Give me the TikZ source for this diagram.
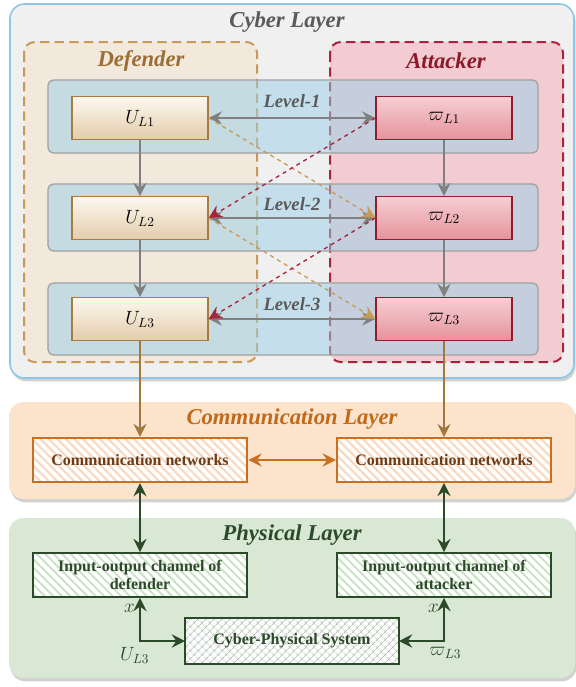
\documentclass[tikz,border=0pt]{standalone}
\usepackage{fontspec}
\setmainfont{Liberation Serif}
\usetikzlibrary{arrows.meta,calc,positioning,shadows,patterns.meta}
\definecolor{cybBg}{RGB}{240,240,240}
\definecolor{cybLn}{RGB}{142,198,232}
\definecolor{cybTx}{RGB}{90,90,90}
\definecolor{defLn}{RGB}{200,154,88}
\definecolor{defBg}{RGB}{242,232,220}
\definecolor{defTx}{RGB}{155,110,53}
\definecolor{attLn}{RGB}{168,36,56}
\definecolor{attBg}{RGB}{242,204,210}
\definecolor{attTx}{RGB}{140,24,40}
\definecolor{lvlBg}{RGB}{154,208,232}
\definecolor{lvlLn}{RGB}{160,160,160}
\definecolor{arrG}{RGB}{128,128,128}
\definecolor{uLn}{RGB}{168,123,64}
\definecolor{uTop}{RGB}{252,248,240}
\definecolor{uBot}{RGB}{227,205,170}
\definecolor{sLn}{RGB}{142,30,46}
\definecolor{sTop}{RGB}{246,206,211}
\definecolor{sBot}{RGB}{229,147,156}
\definecolor{linkT}{RGB}{160,120,64}
\definecolor{comBg}{RGB}{252,227,204}
\definecolor{comLn}{RGB}{200,112,32}
\definecolor{comTx}{RGB}{192,106,26}
\definecolor{comNt}{RGB}{110,60,20}
\definecolor{comHt}{RGB}{250,216,192}
\definecolor{phyBg}{RGB}{216,232,212}
\definecolor{phyLn}{RGB}{44,74,42}
\definecolor{phyHt}{RGB}{200,226,196}

\tikzset{
  layerbox/.style={rounded corners=11pt,drop shadow={shadow xshift=1.2pt,shadow yshift=-2.5pt,opacity=0.35}},
  sidebox/.style={rounded corners=8pt,line width=1.5pt,dash pattern=on 7pt off 4pt},
  levelbox/.style={rounded corners=4pt,draw=lvlLn,line width=0.9pt,fill=lvlBg,fill opacity=0.5},
  title/.style={font=\fontsize{17}{20}\selectfont\bfseries\itshape},
  lvltext/.style={font=\fontsize{14}{16}\selectfont\bfseries\itshape,text=cybTx},
  ubox/.style={draw=uLn,line width=1pt,top color=uTop,bottom color=uBot,minimum width=102pt,minimum height=32pt,font=\fontsize{14}{16}\selectfont},
  sbox/.style={draw=sLn,line width=1pt,top color=sTop,bottom color=sBot,minimum width=102pt,minimum height=32pt,font=\fontsize{14}{16}\selectfont},
  netbox/.style={draw=comLn,line width=1.3pt,preaction={fill=white},pattern={Lines[angle=-45,distance=4.5pt,line width=1.6pt]},pattern color=comHt,minimum width=161pt,minimum height=33pt,text=comNt,font=\fontsize{12}{14}\selectfont\bfseries},
  chanbox/.style={draw=phyLn,line width=1.3pt,preaction={fill=white},pattern={Lines[angle=-45,distance=4.5pt,line width=1.4pt]},pattern color=phyHt,minimum width=161pt,minimum height=33pt,text=phyLn,align=center,font=\fontsize{12}{14}\selectfont\bfseries},
  cpsbox/.style={draw=phyLn,line width=1.3pt,preaction={fill=white},pattern={Hatch[angle=45,distance=4pt,line width=0.5pt]},pattern color=phyLn!35,minimum width=160pt,minimum height=34pt,text=phyLn,font=\fontsize{12}{14}\selectfont\bfseries},
  garrow/.style={draw=arrG,line width=1.1pt},
  lbl/.style={font=\fontsize{14}{16}\selectfont}
}

\begin{document}
\begin{tikzpicture}[x=0.75pt,y=-0.75pt,>={Stealth[length=10pt,width=10pt,inset=3.5pt]}]
\fill[white] (0,0) rectangle (576,687);
\useasboundingbox (0,0) rectangle (576,687);
% ---- cyber layer with defender / attacker columns
\draw[layerbox,draw=cybLn,line width=1.2pt,fill=cybBg] (10,4) rectangle (574,378);
\node[title,text=cybTx] (cybT) at (287,22) {Cyber Layer};
\draw[sidebox,draw=defLn,fill=defBg] (24,42) rectangle (257,362);
\node[title,text=defTx] (defT) at (141,61) {Defender};
\draw[sidebox,draw=attLn,fill=attBg] (330,42) rectangle (563,362);
\node[title,text=attTx] (attT) at (446,61) {Attacker};
\foreach \ya/\yb in {80/153,184/251,283/355}
  \draw[levelbox] (48,\ya) rectangle (538,\yb);
\node[lvltext] (lv1) at (292,101) {Level-1};
\node[lvltext] (lv2) at (292,204) {Level-2};
\node[lvltext] (lv3) at (292,304) {Level-3};
\node[ubox] (u1) at (140,118) {$U_{L1}$};
\node[ubox] (u2) at (140,218) {$U_{L2}$};
\node[ubox] (u3) at (140,319) {$U_{L3}$};
\node[sbox] (s1) at (444,118) {$\varpi_{L1}$};
\node[sbox] (s2) at (444,218) {$\varpi_{L2}$};
\node[sbox] (s3) at (444,319) {$\varpi_{L3}$};
\foreach \i in {1,2,3}
  \draw[garrow,<->] (u\i.east) -- (s\i.west);
\draw[garrow,->] (u1) -- (u2);
\draw[garrow,->] (u2) -- (u3);
\draw[garrow,->] (s1) -- (s2);
\draw[garrow,->] (s2) -- (s3);
\foreach \i/\j in {1/2,2/3}{
  \draw[defLn,line width=1pt,dashed,->] (u\i.east) -- (s\j.west);
  \draw[attLn,line width=1pt,dashed,->] (s\i.west) -- (u\j.east);
}
% ---- communication layer
\fill[layerbox,comBg] (9,402) rectangle (575,499);
\node[title,text=comTx] (comT) at (292,419) {Communication Layer};
\node[netbox] (c1) at (140,460) {Communication networks};
\node[netbox] (c2) at (444,460) {Communication networks};
\draw[comLn,line width=1.1pt,<->] (c1) -- (c2);
\draw[linkT,line width=1pt,->] (u3) -- (c1);
\draw[linkT,line width=1pt,->] (s3) -- (c2);
% ---- physical layer
\fill[layerbox,phyBg] (9,518) rectangle (575,678);
\node[title,text=phyLn] (phyT) at (292,535) {Physical Layer};
\node[chanbox] (io1) at (140,575) {Input-output channel of\\defender};
\node[chanbox] (io2) at (444,575) {Input-output channel of\\attacker};
\node[cpsbox] (cps) at (292,641) {Cyber-Physical System};
\draw[phyLn,line width=1.2pt,<->] (c1) -- (io1);
\draw[phyLn,line width=1.2pt,<->] (c2) -- (io2);
\draw[phyLn,line width=1.2pt,<->] (io1.south) |- (cps.west)
  node[lbl,pos=0.12,left] {$x$}
  node[lbl,pos=0.5,below,xshift=-4pt,yshift=-1pt] {$U_{L3}$};
\draw[phyLn,line width=1.2pt,<->] (io2.south) |- (cps.east)
  node[lbl,pos=0.12,left] {$x$}
  node[lbl,pos=0.5,below,xshift=1pt,yshift=-1pt] {$\varpi_{L3}$};
\end{tikzpicture}
\end{document}
